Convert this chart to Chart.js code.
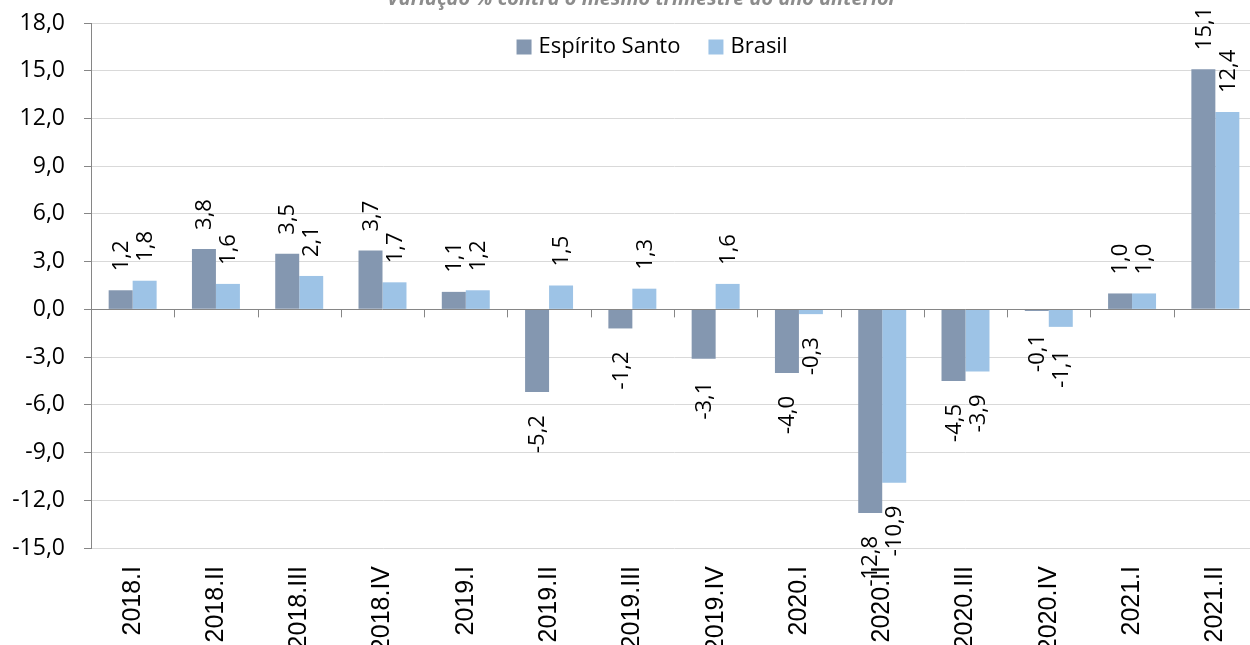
<!DOCTYPE html>
<html>
<head>
<meta charset="utf-8">
<script src="https://cdn.jsdelivr.net/npm/chart.js@4.4.0/dist/chart.umd.min.js"></script>
<style>
  html, body { margin: 0; padding: 0; background: #fff; }
  #wrap { position: relative; width: 1250px; height: 645px; overflow: hidden; }
  #chart-box { position: absolute; left: 0; top: 0; width: 1270px; height: 645px; }
</style>
</head>
<body>
<div id="wrap">
  <div id="chart-box"><canvas id="gdp-chart"></canvas></div>
</div>
<script>
const chartTitle = 'Variação % contra o mesmo trimestre do ano anterior';
const categories = ['2018.I', '2018.II', '2018.III', '2018.IV', '2019.I', '2019.II', '2019.III',
  '2019.IV', '2020.I', '2020.II', '2020.III', '2020.IV', '2021.I', '2021.II'];
const espiritoSanto = [1.2, 3.8, 3.5, 3.7, 1.1, -5.2, -1.2, -3.1, -4.0, -12.8, -4.5, -0.1, 1.0, 15.1];
const brasil = [1.8, 1.6, 2.1, 1.7, 1.2, 1.5, 1.3, 1.6, -0.3, -10.9, -3.9, -1.1, 1.0, 12.4];
const yMin = -15;
const yMax = 18;
const yStep = 3;

const fmt = function (v) {
  return Number(v).toFixed(1).replace('.', ',');
};

// title sits mostly above the visible area, like the cropped original
const titlePlugin = {
  id: 'croppedTitle',
  afterDraw(chart) {
    const ctx = chart.ctx;
    ctx.save();
    ctx.font = 'italic bold 20px "Open Sans"';
    ctx.fillStyle = '#8c8c8c';
    ctx.textAlign = 'center';
    ctx.textBaseline = 'alphabetic';
    ctx.fillText(chartTitle, 642, 5);
    ctx.restore();
  }
};

// legend inside the plot, centred near the top
const innerLegend = {
  id: 'innerLegend',
  afterDraw(chart) {
    const ctx = chart.ctx;
    const box = 15;
    const gap = 7;
    const between = 28;
    const cy = 47;
    ctx.save();
    ctx.font = '22px "Open Sans"';
    ctx.textBaseline = 'middle';
    ctx.textAlign = 'left';
    const items = chart.data.datasets.map(function (ds) {
      return { text: ds.label, color: ds.backgroundColor, w: ctx.measureText(ds.label).width };
    });
    let total = 0;
    items.forEach(function (it, i) {
      total += box + gap + it.w + (i > 0 ? between : 0);
    });
    let x = 652 - total / 2;
    items.forEach(function (it) {
      ctx.fillStyle = it.color;
      ctx.fillRect(x, cy - box / 2, box, box);
      ctx.fillStyle = '#000';
      ctx.fillText(it.text, x + box + gap, cy);
      x += box + gap + it.w + between;
    });
    ctx.restore();
  }
};

// vertical value labels at the end of each bar + category tick marks on zero line
const barLabels = {
  id: 'barLabels',
  afterDatasetsDraw(chart) {
    const ctx = chart.ctx;
    const xScale = chart.scales.x;
    const yScale = chart.scales.y;
    const y0 = yScale.getPixelForValue(0);

    ctx.save();
    ctx.strokeStyle = '#868686';
    ctx.lineWidth = 1;
    const step = xScale.getPixelForValue(1) - xScale.getPixelForValue(0);
    for (let i = 0; i <= categories.length; i++) {
      const x = Math.round(xScale.getPixelForValue(0) - step / 2 + i * step) + 0.5;
      ctx.beginPath();
      ctx.moveTo(x, y0);
      ctx.lineTo(x, y0 + 8);
      ctx.stroke();
    }
    ctx.beginPath();
    ctx.moveTo(chart.chartArea.left, Math.round(y0) + 0.5);
    ctx.lineTo(chart.chartArea.right, Math.round(y0) + 0.5);
    ctx.stroke();

    ctx.font = '22px "Open Sans"';
    ctx.fillStyle = '#000';
    ctx.textBaseline = 'middle';
    chart.data.datasets.forEach(function (ds, di) {
      const meta = chart.getDatasetMeta(di);
      meta.data.forEach(function (bar, i) {
        const v = ds.data[i];
        ctx.save();
        if (v >= 0) {
          ctx.translate(bar.x, bar.y - 19);
          ctx.rotate(-Math.PI / 2);
          ctx.textAlign = 'left';
        } else {
          ctx.translate(bar.x, bar.y + 23);
          ctx.rotate(-Math.PI / 2);
          ctx.textAlign = 'right';
        }
        ctx.fillText(fmt(v), 0, 1);
        ctx.restore();
      });
    });
    ctx.restore();
  }
};

const ctx = document.getElementById('gdp-chart');
const gdpChart = new Chart(ctx, {
  type: 'bar',
  data: {
    labels: categories,
    datasets: [{
      label: 'Espírito Santo',
      data: espiritoSanto,
      backgroundColor: '#8497b0',
      categoryPercentage: 0.576,
      barPercentage: 1.0
    }, {
      label: 'Brasil',
      data: brasil,
      backgroundColor: '#9dc3e6',
      categoryPercentage: 0.576,
      barPercentage: 1.0
    }]
  },
  options: {
    responsive: true,
    maintainAspectRatio: false,
    animation: false,
    layout: {
      padding: { top: 23, right: 13, bottom: 0, left: 0 }
    },
    scales: {
      x: {
        grid: { display: false, drawTicks: false },
        border: { display: false },
        ticks: {
          autoSkip: false,
          minRotation: 90,
          maxRotation: 90,
          padding: 18,
          color: '#000',
          font: { family: '"Liberation Sans"', size: 25 }
        },
        afterFit(scale) {
          scale.height = 97;
        }
      },
      y: {
        min: yMin,
        max: yMax,
        ticks: {
          stepSize: yStep,
          padding: 19,
          color: '#000',
          font: { family: '"Open Sans"', size: 23 },
          callback: function (value) {
            return fmt(value);
          }
        },
        grid: {
          color: '#d9d9d9',
          tickColor: '#868686',
          tickLength: 7
        },
        border: { display: true, color: '#868686' },
        afterFit(scale) {
          scale.width = 91;
          scale.paddingTop = 0;
          scale.paddingBottom = 0;
        }
      }
    },
    plugins: {
      legend: { display: false },
      tooltip: { enabled: false }
    }
  },
  plugins: [titlePlugin, barLabels, innerLegend]
});
</script>
</body>
</html>
